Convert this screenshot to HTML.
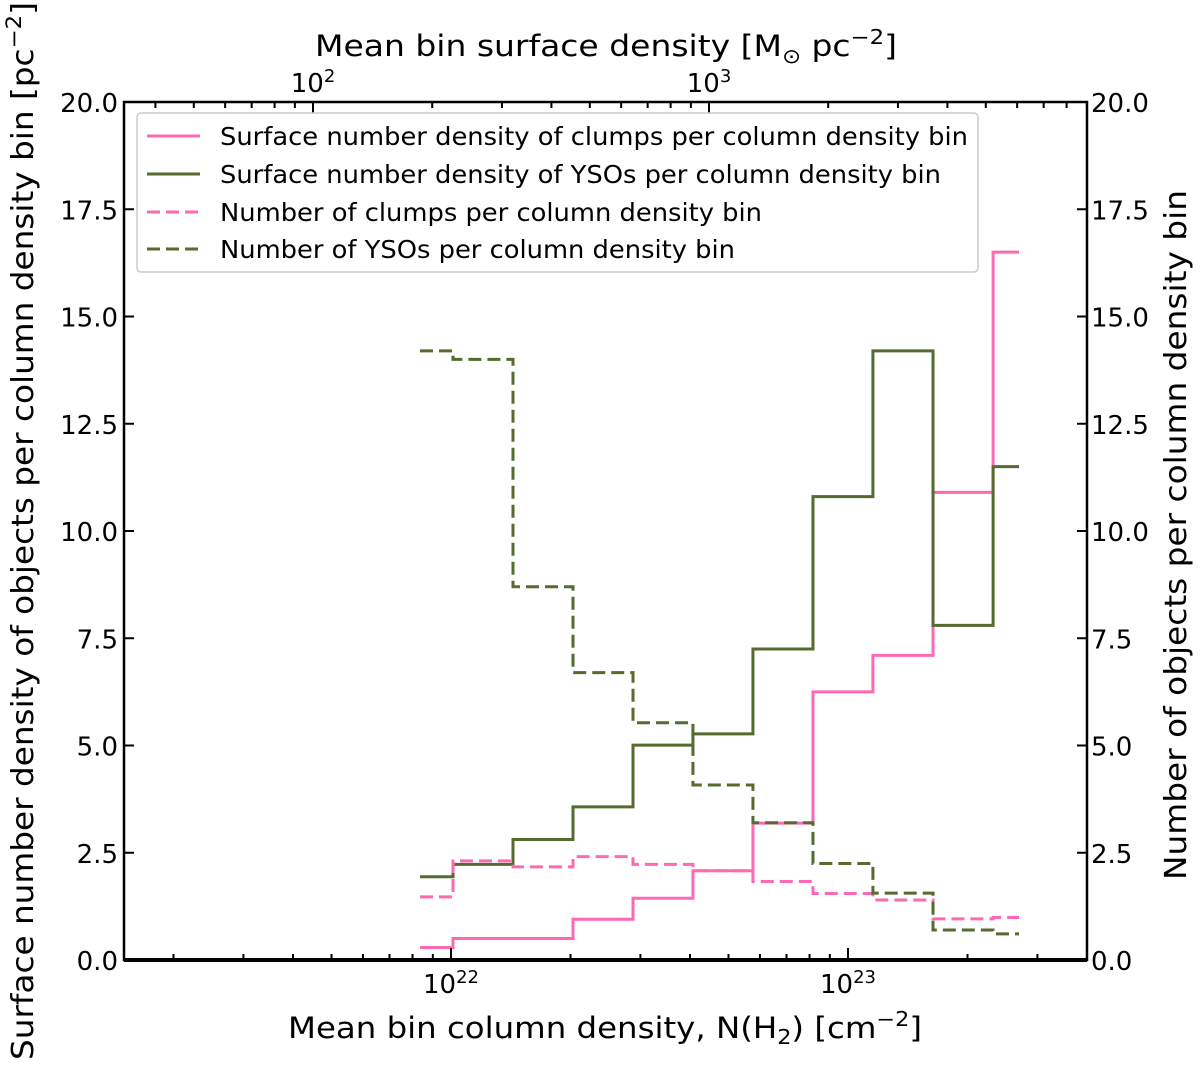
<!DOCTYPE html>
<html><head><meta charset="utf-8"><style>
body{margin:0;background:#fff}
svg text{font-family:"DejaVu Sans","Liberation Sans",sans-serif;fill:#000}
</style></head><body>
<svg id="chart" width="1200" height="1066" xmlns="http://www.w3.org/2000/svg"></svg>
<script>
const binCenters=[8.50e21,1.204e22,1.705e22,2.415e22,3.42e22,4.84e22,6.86e22,9.71e22,1.375e23,1.95e23,2.76e23];
const clumpsSurf=[0.29,0.50,0.50,0.95,1.44,2.08,3.19,6.25,7.1,10.9,16.5];
const ysoSurf=[1.94,2.23,2.81,3.57,5.01,5.27,7.25,10.8,14.2,7.8,11.5];
const clumpsNum=[1.47,2.31,2.17,2.41,2.23,2.08,1.83,1.55,1.40,0.96,0.99];
const ysoNum=[14.2,14.0,8.7,6.7,5.53,4.08,3.2,2.25,1.56,0.70,0.61];
const yTicks=["0.0","2.5","5.0","7.5","10.0","12.5","15.0","17.5","20.0"];

const svg=document.getElementById('chart');
const NS='http://www.w3.org/2000/svg';
const L=124,R=1087,T=102,B=960;
const X=v=>451+(Math.log10(v)-22)*397;
const XT=v=>313+(Math.log10(v)-2)*396;
const Y=v=>B-(v/20)*(B-T);
function mk(tag,attrs,parent){const e=document.createElementNS(NS,tag);for(const k in attrs)e.setAttribute(k,attrs[k]);(parent||svg).appendChild(e);return e;}

function stepPath(vals){
  const xs=binCenters.map(X);let d='';
  for(let i=0;i<vals.length;i++){
    const x0=i===0?xs[0]-3:(xs[i-1]+xs[i])/2;
    const x1=i===vals.length-1?xs[i]-4:(xs[i]+xs[i+1])/2;
    d+=(i===0?'M':'L')+x0+' '+Y(vals[i])+' L'+x1+' '+Y(vals[i])+' ';
  }
  return d;
}
const series=[[clumpsSurf,'#ff69b4',false,'clumps-surface-line'],[ysoSurf,'#556b2f',false,'yso-surface-line'],[clumpsNum,'#ff69b4',true,'clumps-number-line'],[ysoNum,'#556b2f',true,'yso-number-line']];
series.forEach(s=>{
  const p=mk('path',{d:stepPath(s[0]),fill:'none',stroke:s[1],'stroke-width':3});
  if(s[2])p.setAttribute('stroke-dasharray','13 6');
  
  
});

const fr=mk('rect',{x:L,y:T,width:R-L,height:B-T,fill:'none',stroke:'#000','stroke-width':2.5});


mk('line',{x1:L,x2:R,y1:B,y2:B,stroke:'#000','stroke-width':4});

yTicks.forEach(t=>{
  const y=Y(parseFloat(t));
  mk('line',{x1:L,x2:L+10,y1:y,y2:y,stroke:'#000','stroke-width':2});
  mk('line',{x1:R,x2:R-10,y1:y,y2:y,stroke:'#000','stroke-width':2});
  const a=mk('text',{x:L-6,y:y+10,'text-anchor':'end','font-size':26});a.textContent=t;
  
  
  const b=mk('text',{x:R+4,y:y+10,'text-anchor':'start','font-size':26});b.textContent=t;
  
  
});
for(let e=21;e<=23;e++)for(let m=1;m<10;m++){
  const v=m*Math.pow(10,e),x=X(v);if(x<L||x>R)continue;
  const len=m===1?12:6;
  mk('line',{x1:x,x2:x,y1:B,y2:B-len,stroke:'#000','stroke-width':2});
  if(m===1){const t=mk('text',{x:x,y:B+33,'text-anchor':'middle','font-size':26});
    t.innerHTML='10<tspan dy="-10" font-size="18">'+e+'</tspan>';
    
    }
}
for(let e=1;e<=3;e++)for(let m=1;m<10;m++){
  const v=m*Math.pow(10,e),x=XT(v);if(x<L||x>R)continue;
  const len=m===1?12:6;
  mk('line',{x1:x,x2:x,y1:T,y2:T+len,stroke:'#000','stroke-width':2});
  if(m===1){const t=mk('text',{x:x,y:T-10,'text-anchor':'middle','font-size':26});
    t.innerHTML='10<tspan dy="-10" font-size="18">'+e+'</tspan>';
    
    }
}
</script>
<svg style="position:absolute;left:0;top:0" width="1200" height="1066" xmlns="http://www.w3.org/2000/svg">
<text x="288" y="1038" font-size="29" textLength="634" lengthAdjust="spacingAndGlyphs">Mean bin column density, N(H<tspan dy="6" font-size="20">2</tspan><tspan dy="-6">) [cm</tspan><tspan dy="-12" font-size="20">−2</tspan><tspan dy="12">]</tspan></text>
<text x="315" y="56" font-size="29" textLength="582" lengthAdjust="spacingAndGlyphs">Mean bin surface density [M<tspan dy="7" font-size="20">⊙</tspan><tspan dy="-7"> pc</tspan><tspan dy="-12" font-size="20">−2</tspan><tspan dy="12">]</tspan></text>
<text transform="translate(33,1060) rotate(-90)" font-size="30" textLength="1058" lengthAdjust="spacingAndGlyphs">Surface number density of objects per column density bin [pc<tspan dy="-12" font-size="21">−2</tspan><tspan dy="12">]</tspan></text>
<text transform="translate(1186,880) rotate(-90)" font-size="30" textLength="690" lengthAdjust="spacingAndGlyphs">Number of objects per column density bin</text>
<g>
<rect x="137" y="113" width="841" height="159" rx="4" fill="#fff" fill-opacity="0.85" stroke="#ccc" stroke-width="1.5"/>
<line x1="147" x2="200" y1="136" y2="136" stroke="#ff69b4" stroke-width="3"/>
<text x="220" y="145" font-size="25" textLength="748" lengthAdjust="spacingAndGlyphs">Surface number density of clumps per column density bin</text>
<line x1="147" x2="200" y1="174" y2="174" stroke="#556b2f" stroke-width="3"/>
<text x="220" y="183" font-size="25" textLength="721" lengthAdjust="spacingAndGlyphs">Surface number density of YSOs per column density bin</text>
<line x1="147" x2="200" y1="212" y2="212" stroke="#ff69b4" stroke-width="3" stroke-dasharray="13 6"/>
<text x="220" y="221" font-size="25" textLength="542" lengthAdjust="spacingAndGlyphs">Number of clumps per column density bin</text>
<line x1="147" x2="200" y1="249" y2="249" stroke="#556b2f" stroke-width="3" stroke-dasharray="13 6"/>
<text x="220" y="258" font-size="25" textLength="515" lengthAdjust="spacingAndGlyphs">Number of YSOs per column density bin</text>
</g>
</svg>
</body></html>
